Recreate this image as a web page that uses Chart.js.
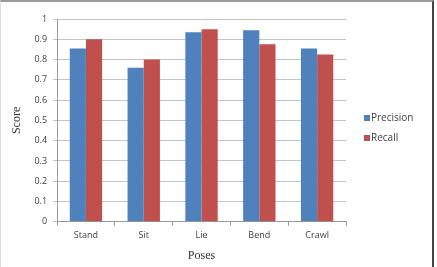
<!DOCTYPE html>
<html>
<head>
<meta charset="utf-8">
<script src="https://cdn.jsdelivr.net/npm/chart.js@4/dist/chart.umd.min.js"></script>
<style>
  html, body { margin: 0; padding: 0; background: #fff; }
  #wrap { position: relative; width: 437px; height: 267px; }
  #frame {
    position: absolute; left: 0; top: 0; width: 434px; height: 267px; box-sizing: border-box;
    border-top: 2px solid #9a9a9a; border-right: 2px solid #444; border-left: 1px solid #ddd;
    pointer-events: none;
  }
  canvas { position: absolute; left: 0; top: 0; }
</style>
</head>
<body>
<div id="wrap"><canvas id="chart" width="437" height="267"></canvas><div id="frame"></div></div>
<script>
// values
const poses = ['Stand', 'Sit', 'Lie', 'Bend', 'Crawl'];
const precision = [0.855, 0.76, 0.935, 0.945, 0.855];
const recall = [0.9, 0.8, 0.95, 0.875, 0.825];
const yTicks = [0, 0.1, 0.2, 0.3, 0.4, 0.5, 0.6, 0.7, 0.8, 0.9, 1];

const tickFont = { family: 'Open Sans', size: 9 };
const titleFont = { family: 'Liberation Serif', size: 12 };

// excel style legend off to the right of the plot, drawn from the datasets
const sideLegend = {
    id: 'sideLegend',
    afterDraw(chart) {
        const c = chart.ctx;
        const x = chart.chartArea.right + 18;
        let y = 118;
        c.save();
        c.font = '10px "Open Sans"';
        c.textBaseline = 'middle';
        chart.data.datasets.forEach(ds => {
            c.fillStyle = ds.backgroundColor;
            c.fillRect(x, y - 3, 6, 6);
            c.fillStyle = '#404040';
            c.fillText(ds.label, x + 7, y);
            y += 20;
        });
        c.restore();
    }
};

const ctx = document.getElementById('chart').getContext('2d');
const chart = new Chart(ctx, {
    type: 'bar',
    data: {
        labels: poses,
        datasets: [
            { label: 'Precision', data: precision, backgroundColor: '#4f81bd' },
            { label: 'Recall', data: recall, backgroundColor: '#c0504d' }
        ]
    },
    options: {
        responsive: false,
        animation: false,
        devicePixelRatio: 1,
        layout: { padding: { left: 10, right: 91, top: 19, bottom: 4 } },
        datasets: { bar: { categoryPercentage: 0.56, barPercentage: 1 } },
        plugins: {
            tooltip: { enabled: false },
            legend: { display: false }
        },
        scales: {
            x: {
                grid: { drawOnChartArea: false, tickLength: 4, color: '#999' },
                border: { color: '#999' },
                ticks: { font: tickFont, color: '#404040', padding: 4 },
                title: { display: true, text: 'Poses', font: titleFont, color: '#333', padding: { top: 4, bottom: 0 } }
            },
            y: {
                min: 0,
                max: 1,
                afterBuildTicks: axis => { axis.ticks = yTicks.map(v => ({ value: v })); },
                grid: { color: '#c4c4c4', tickLength: 4 },
                border: { color: '#999' },
                ticks: { font: tickFont, color: '#404040', padding: 6, autoSkip: false, callback: v => String(+v.toFixed(1)) },
                title: { display: true, text: 'Score', font: titleFont, color: '#333', padding: { top: 0, bottom: 4 } }
            }
        }
    },
    plugins: [sideLegend]
});
</script>
</body>
</html>
